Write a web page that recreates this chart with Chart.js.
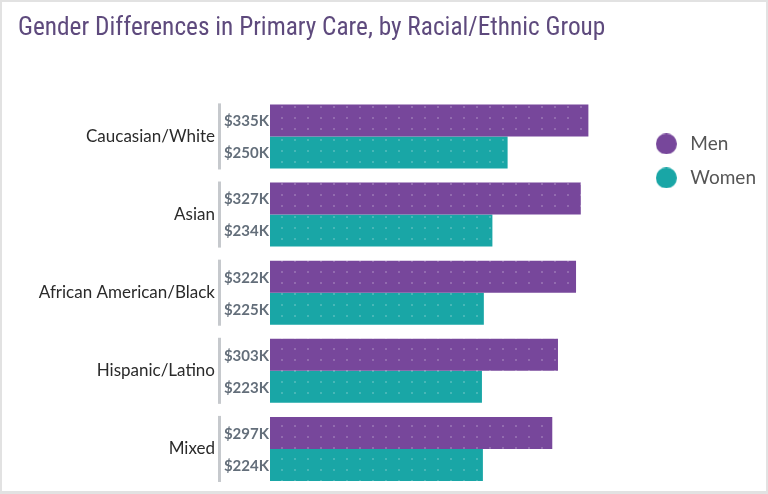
<!DOCTYPE html>
<html>
<head>
<meta charset="utf-8">
<script src="https://cdn.jsdelivr.net/npm/chart.js@4"></script>
<style>
	html, body { margin: 0; padding: 0; background: #fff; }
	#wrap { width: 768px; height: 494px; box-sizing: border-box; border: 2px solid #e2e2e2; border-bottom-width: 3px; }
	#chart { display: block; }
</style>
</head>
<body>
<div id="wrap"><canvas id="chart" width="764" height="489"></canvas></div>
<script>
var groups = ['Caucasian/White', 'Asian', 'African American/Black', 'Hispanic/Latino', 'Mixed'];
var menValues = [335, 327, 322, 303, 297];
var womenValues = [250, 234, 225, 223, 224];

var purple = '#77479b';
var teal = '#19a6a6';

// bars have a faint dotted texture
function dotted(color) {
	var c = document.createElement('canvas');
	c.width = 13;
	c.height = 11;
	var g = c.getContext('2d');
	g.fillStyle = color;
	g.fillRect(0, 0, 13, 11);
	g.fillStyle = 'rgba(255,255,255,0.2)';
	g.fillRect(6, 5, 2, 2);
	return g.createPattern(c, 'repeat');
}

function dot(color) {
	var c = document.createElement('canvas');
	c.width = 21;
	c.height = 21;
	var g = c.getContext('2d');
	g.fillStyle = color;
	g.beginPath();
	g.arc(10.5, 10.5, 10.5, 0, Math.PI * 2);
	g.fill();
	return c;
}
var legendDots = [dot(purple), dot(teal)];

var ctx = document.getElementById('chart').getContext('2d');

var valueLabels = {
	id: 'valueLabels',
	afterDatasetsDraw: function (chart) {
		var c = chart.ctx;
		var left = chart.chartArea.left;
		c.save();
		c.font = 'bold 15px Lato';
		c.fillStyle = '#636e7a';
		c.textAlign = 'right';
		c.textBaseline = 'middle';
		chart.data.datasets.forEach(function (ds, i) {
			chart.getDatasetMeta(i).data.forEach(function (bar, j) {
				c.fillText('$' + ds.data[j] + 'K', left - 1, bar.y + 1);
			});
		});
		// separator line per group
		var men = chart.getDatasetMeta(0).data;
		var women = chart.getDatasetMeta(1).data;
		c.fillStyle = '#c6c9cd';
		men.forEach(function (bar, j) {
			var top = bar.y - bar.height / 2 - 1;
			var bottom = women[j].y + women[j].height / 2 + 1;
			c.fillRect(left - 52, top, 3, bottom - top);
		});
		c.restore();
	}
};

new Chart(ctx, {
	type: 'bar',
	data: {
		labels: groups,
		datasets: [
			{ label: 'Men', data: menValues, backgroundColor: dotted(purple), borderWidth: 0 },
			{ label: 'Women', data: womenValues, backgroundColor: dotted(teal), borderWidth: 0 }
		]
	},
	plugins: [valueLabels],
	options: {
		indexAxis: 'y',
		responsive: false,
		animation: false,
		layout: { padding: { left: 16, right: 0, top: 0, bottom: 3 } },
		datasets: { bar: { categoryPercentage: 0.82, barPercentage: 1 } },
		scales: {
			x: { display: false, min: 0, max: 386 },
			y: {
				grid: { display: false },
				border: { display: false },
				ticks: { color: '#2a2a2a', font: { family: 'Lato', size: 17 }, padding: 47 },
				afterFit: function (scale) {
					scale.width = 252;
					scale.paddingTop = 0;
					scale.paddingBottom = 0;
				}
			}
		},
		plugins: {
			title: {
				display: true,
				text: 'Gender Differences in Primary Care, by Racial/Ethnic Group',
				align: 'start',
				color: '#5e4a7d',
				font: { family: "'Roboto Condensed', 'DejaVu Sans Condensed', Roboto", size: 25.3, weight: 'normal' },
				padding: { top: 11, bottom: 54 }
			},
			legend: {
				position: 'right',
				align: 'start',
				title: { display: true, text: '', padding: { top: 0, bottom: 103 } },
				labels: {
					usePointStyle: true,
					pointStyleWidth: 29,
					color: '#555',
					font: { family: 'Lato', size: 19 },
					padding: 15,
					generateLabels: function (chart) {
						var items = Chart.defaults.plugins.legend.labels.generateLabels(chart);
						items.forEach(function (item, i) { item.pointStyle = legendDots[i]; });
						return items;
					}
				}
			},
			tooltip: { enabled: false }
		}
	}
});
</script>
</body>
</html>
